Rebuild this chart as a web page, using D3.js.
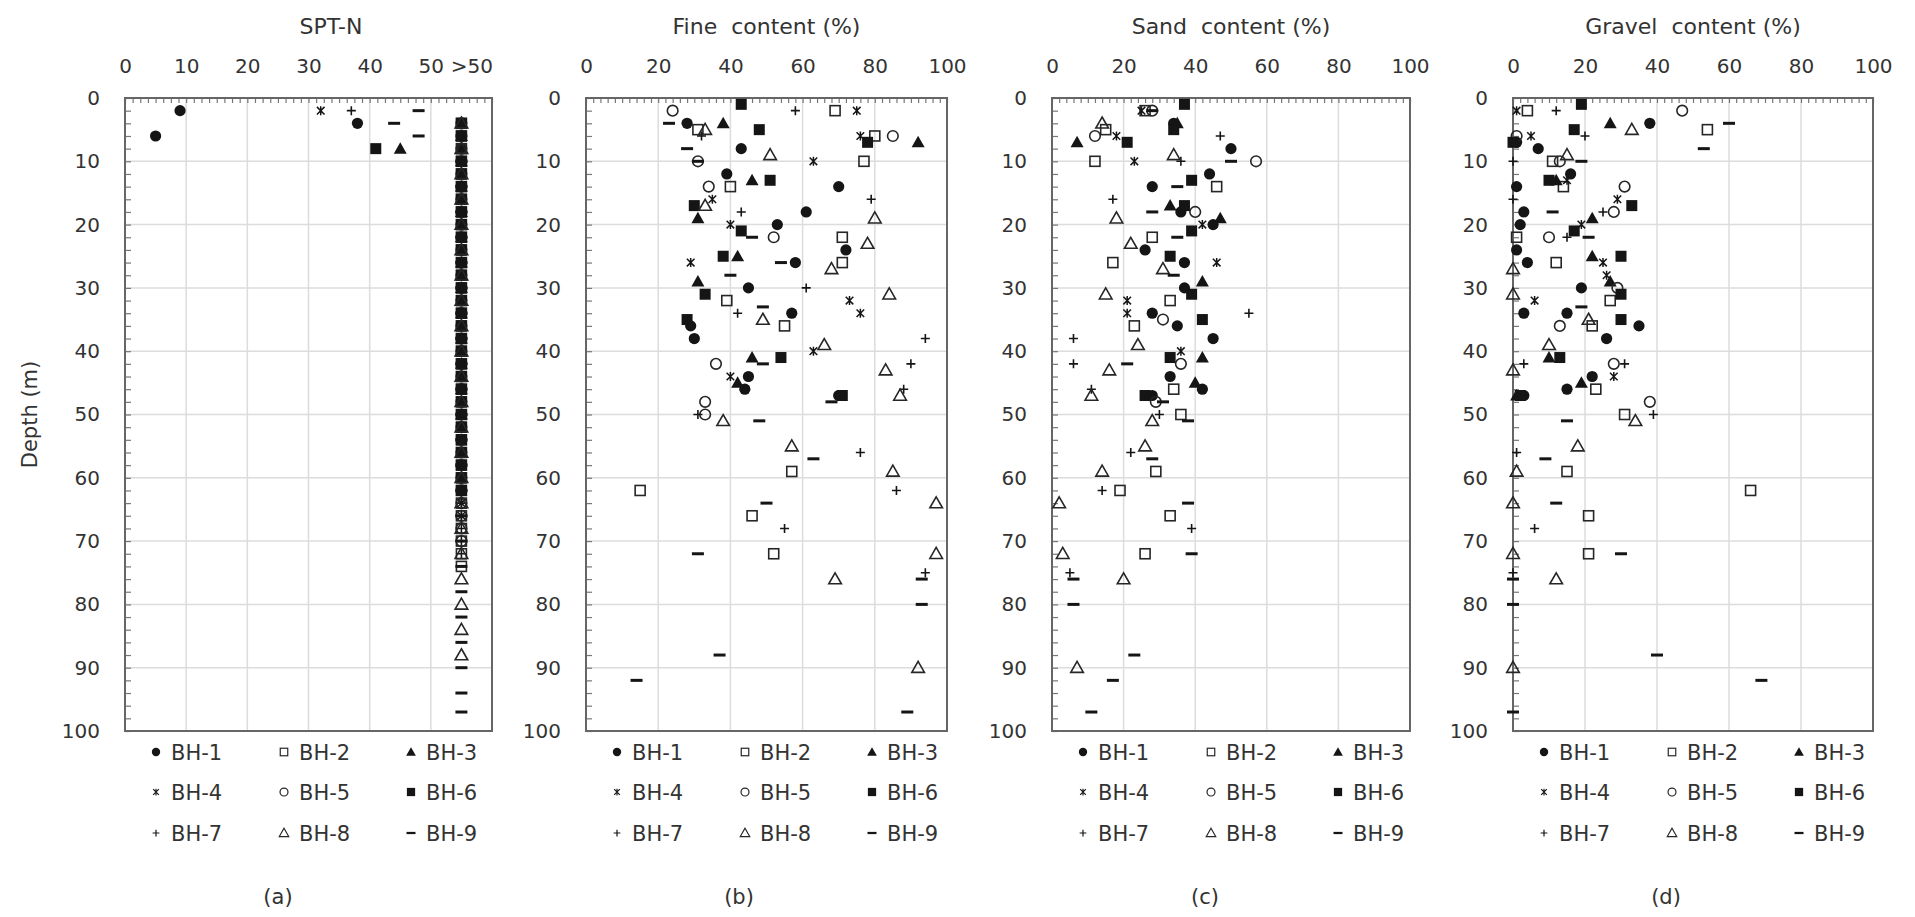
<!DOCTYPE html>
<html>
<head>
<meta charset="utf-8">
<script src="https://cdn.jsdelivr.net/npm/d3@7"></script>
<style>
  body { margin: 0; background: #fff; }
  svg { display: block; }
  text { font-family: "DejaVu Sans", sans-serif; fill: #333; }
</style>
</head>
<body>
<svg id="chart" width="1915" height="917"></svg>
<script>
// ---- data -------------------------------------------------------------
const boreholes = ["BH-1", "BH-2", "BH-3", "BH-4", "BH-5", "BH-6", "BH-7", "BH-8", "BH-9"];
const panelTitles = ["SPT-N", "Fine  content (%)", "Sand  content (%)", "Gravel  content (%)"];
const panelLabels = ["(a)", "(b)", "(c)", "(d)"];
const depthTicks = [0, 10, 20, 30, 40, 50, 60, 70, 80, 90, 100];
const sptTickValues = [0, 10, 20, 30, 40, 50, 55];
const sptTickLabels = ["0", "10", "20", "30", "40", "50", ">50"];
const pctTickValues = [0, 20, 40, 60, 80, 100];

// SPT-N below refusal, [N, depth] per borehole
const sptValues = [
  [[9, 2], [38, 4], [5, 6]],
  [],
  [[45, 8]],
  [[32, 2]],
  [],
  [[41, 8]],
  [[37, 2]],
  [],
  [[48, 2], [44, 4], [48, 6]]
];

// depths (m) where SPT-N exceeded 50, per borehole
const sptOver50Depths = [
  [8, 10, 12, 14, 16, 18, 20, 22, 24, 26, 28, 30, 32, 34, 36, 38, 40],
  [4, 6, 8, 10, 12, 14, 16, 18, 20, 22, 24, 26, 28, 30, 32, 34, 36, 38, 40, 42, 44, 46, 48, 50, 52, 54, 56, 58, 60, 62, 64, 66, 68, 70, 72, 74],
  [4, 6, 10, 12, 14, 16, 18, 20, 22, 24, 26, 28, 30, 32, 34, 36, 38, 40, 42, 44, 46, 48, 50],
  [4, 6, 8, 10, 12, 14, 16, 18, 20, 22, 24, 26, 28, 30, 32, 34, 36, 38, 40, 42, 44, 46, 48, 50, 52, 54, 56, 58, 60, 62, 64, 66],
  [4, 6, 8, 10, 12, 14, 16, 18, 20, 22, 24, 26, 28, 30, 32, 34, 36, 38, 40, 42, 44, 46, 48, 50, 52, 54, 56, 58, 60, 62, 64, 66, 68, 70],
  [4, 6, 10, 12, 14, 16, 18, 20, 22, 24, 26, 28, 30, 32, 34, 36, 38, 40, 42, 44, 46, 48, 50, 52, 54, 56, 58, 60, 62],
  [4, 6, 8, 10, 12, 14, 16, 18, 20, 22, 24, 26, 28, 30, 32, 34, 36, 38, 40, 42, 44, 46, 48, 50, 52, 54, 56, 58, 60, 62, 64, 66, 68, 70, 72],
  [4, 8, 12, 16, 20, 24, 28, 32, 36, 40, 44, 48, 52, 56, 60, 64, 68, 72, 76, 80, 84, 88],
  [10, 14, 18, 22, 26, 30, 34, 38, 42, 46, 50, 54, 58, 62, 66, 70, 74, 78, 82, 86, 90, 94, 97]
];

// fine content (%), [value, depth] per borehole
const fineContent = [
  [[28, 4], [43, 8], [39, 12], [70, 14], [61, 18], [53, 20], [72, 24], [58, 26], [45, 30], [57, 34], [29, 36], [30, 38], [45, 44], [44, 46], [70, 47]],
  [[69, 2], [31, 5], [80, 6], [77, 10], [40, 14], [71, 22], [71, 26], [39, 32], [55, 36], [57, 59], [15, 62], [46, 66], [52, 72]],
  [[38, 4], [92, 7], [46, 13], [31, 19], [42, 25], [31, 29], [46, 41], [42, 45]],
  [[75, 2], [76, 6], [63, 10], [35, 16], [40, 20], [29, 26], [73, 32], [76, 34], [63, 40], [40, 44]],
  [[24, 2], [85, 6], [31, 10], [34, 14], [52, 22], [36, 42], [33, 48], [33, 50]],
  [[43, 1], [48, 5], [78, 7], [51, 13], [30, 17], [43, 21], [38, 25], [33, 31], [28, 35], [54, 41], [71, 47]],
  [[58, 2], [32, 6], [79, 16], [43, 18], [61, 30], [42, 34], [94, 38], [90, 42], [88, 46], [31, 50], [76, 56], [86, 62], [55, 68], [94, 75]],
  [[33, 5], [51, 9], [33, 17], [80, 19], [78, 23], [68, 27], [84, 31], [49, 35], [66, 39], [83, 43], [87, 47], [38, 51], [57, 55], [85, 59], [97, 64], [97, 72], [69, 76], [92, 90]],
  [[23, 4], [28, 8], [31, 10], [46, 22], [54, 26], [40, 28], [49, 33], [49, 42], [68, 48], [48, 51], [63, 57], [50, 64], [31, 72], [93, 76], [93, 80], [37, 88], [14, 92], [89, 97]]
];

// sand content (%), [value, depth] per borehole
const sandContent = [
  [[34, 4], [50, 8], [44, 12], [28, 14], [36, 18], [45, 20], [26, 24], [37, 26], [37, 30], [28, 34], [35, 36], [45, 38], [33, 44], [42, 46], [28, 47]],
  [[26, 2], [15, 5], [12, 10], [46, 14], [28, 22], [17, 26], [33, 32], [23, 36], [34, 46], [36, 50], [29, 59], [19, 62], [33, 66], [26, 72]],
  [[35, 4], [7, 7], [33, 17], [47, 19], [42, 29], [42, 41], [40, 45]],
  [[25, 2], [18, 6], [23, 10], [42, 20], [46, 26], [21, 32], [21, 34], [36, 40]],
  [[28, 2], [12, 6], [57, 10], [40, 18], [31, 35], [36, 42], [29, 48]],
  [[37, 1], [34, 5], [21, 7], [39, 13], [37, 17], [39, 21], [33, 25], [39, 31], [42, 35], [33, 41], [26, 47]],
  [[47, 6], [36, 10], [17, 16], [55, 34], [6, 38], [6, 42], [11, 46], [30, 50], [22, 56], [14, 62], [39, 68], [5, 75]],
  [[14, 4], [34, 9], [18, 19], [22, 23], [31, 27], [15, 31], [24, 39], [16, 43], [11, 47], [28, 51], [26, 55], [14, 59], [2, 64], [3, 72], [20, 76], [7, 90]],
  [[28, 2], [50, 10], [35, 14], [28, 18], [35, 22], [34, 28], [21, 42], [31, 48], [38, 51], [28, 57], [38, 64], [39, 72], [6, 76], [6, 80], [23, 88], [17, 92], [11, 97]]
];

// gravel content (%), [value, depth] per borehole
const gravelContent = [
  [[38, 4], [1, 7], [7, 8], [16, 12], [1, 14], [3, 18], [2, 20], [1, 24], [4, 26], [19, 30], [3, 34], [15, 34], [35, 36], [26, 38], [22, 44], [15, 46], [3, 47]],
  [[4, 2], [54, 5], [11, 10], [14, 14], [1, 22], [12, 26], [27, 32], [22, 36], [23, 46], [31, 50], [15, 59], [66, 62], [21, 66], [21, 72]],
  [[27, 4], [12, 13], [22, 19], [22, 25], [27, 29], [10, 41], [19, 45], [1, 47]],
  [[1, 2], [5, 6], [15, 13], [29, 16], [19, 20], [25, 26], [26, 28], [6, 32], [28, 44]],
  [[47, 2], [1, 6], [13, 10], [31, 14], [28, 18], [10, 22], [29, 30], [13, 36], [28, 42], [38, 48]],
  [[19, 1], [17, 5], [0, 7], [10, 13], [33, 17], [17, 21], [30, 25], [30, 31], [30, 35], [13, 41], [2, 47]],
  [[12, 2], [20, 6], [0, 10], [0, 16], [25, 18], [15, 22], [3, 42], [31, 42], [39, 50], [1, 56], [6, 68], [0, 75]],
  [[33, 5], [15, 9], [0, 27], [0, 31], [21, 35], [10, 39], [0, 43], [34, 51], [18, 55], [1, 59], [0, 64], [0, 72], [12, 76], [0, 90]],
  [[60, 4], [53, 8], [19, 10], [11, 18], [21, 22], [19, 33], [15, 51], [9, 57], [12, 64], [30, 72], [0, 76], [0, 80], [40, 88], [69, 92], [0, 97]]
];

// ---- layout -----------------------------------------------------------
const plotTop = 98, plotBottom = 731;
const FONT = '"DejaVu Sans", sans-serif';
const panels = [
  { left: 125,  width: 367, domain: [0, 60],  ticks: sptTickValues, labels: sptTickLabels, minorStep: 1.25, grid: [10, 20, 30, 40, 50], titleX: 331 },
  { left: 586,  width: 361, domain: [0, 100], ticks: pctTickValues, labels: pctTickValues.map(String), minorStep: 2, grid: [20, 40, 60, 80], titleX: null },
  { left: 1052, width: 358, domain: [0, 100], ticks: pctTickValues, labels: pctTickValues.map(String), minorStep: 2, grid: [20, 40, 60, 80], titleX: null },
  { left: 1513, width: 360, domain: [0, 100], ticks: pctTickValues, labels: pctTickValues.map(String), minorStep: 2, grid: [20, 40, 60, 80], titleX: null }
];
const panelSeries = [null, fineContent, sandContent, gravelContent];

const svg = d3.select("#chart");
const y = d3.scaleLinear().domain([0, 100]).range([plotTop, plotBottom]);

const INK = "#151515";
const OPEN_STROKE = "#262626";

// one marker per borehole style
function drawMarker(g, k, x, yy, s = 1) {
  const t = `translate(${x},${yy}) scale(${s})`;
  switch (k) {
    case 0: // filled circle
      g.append("circle").attr("transform", t).attr("r", 5.6).attr("fill", INK); break;
    case 1: // open square
      g.append("rect").attr("transform", t).attr("x", -5).attr("y", -5).attr("width", 10).attr("height", 10)
        .attr("fill", "none").attr("stroke", OPEN_STROKE).attr("stroke-width", 1.6); break;
    case 2: // filled triangle
      g.append("path").attr("transform", t).attr("d", "M0,-6.5L6.5,5L-6.5,5Z").attr("fill", INK); break;
    case 3: // star
      g.append("path").attr("transform", t).attr("d", "M-3.8,-3.8L3.8,3.8M-3.8,3.8L3.8,-3.8M0,-4.5L0,4.5")
        .attr("stroke", INK).attr("stroke-width", 1.5).attr("fill", "none"); break;
    case 4: // open circle
      g.append("circle").attr("transform", t).attr("r", 5.3).attr("fill", "none")
        .attr("stroke", OPEN_STROKE).attr("stroke-width", 1.6); break;
    case 5: // filled square
      g.append("rect").attr("transform", t).attr("x", -5.5).attr("y", -5.5).attr("width", 11).attr("height", 11).attr("fill", INK); break;
    case 6: // plus
      g.append("path").attr("transform", t).attr("d", "M-4.5,0L4.5,0M0,-4.5L0,4.5")
        .attr("stroke", INK).attr("stroke-width", 1.6).attr("fill", "none"); break;
    case 7: // open triangle
      g.append("path").attr("transform", t).attr("d", "M0,-6.3L6.3,4.7L-6.3,4.7Z").attr("fill", "none")
        .attr("stroke", OPEN_STROKE).attr("stroke-width", 1.6); break;
    case 8: // dash
      g.append("path").attr("transform", t).attr("d", "M-6,0L6,0")
        .attr("stroke", INK).attr("stroke-width", 3).attr("fill", "none"); break;
  }
}

panels.forEach((p, pi) => {
  const x = d3.scaleLinear().domain(p.domain).range([p.left, p.left + p.width]);
  const g = svg.append("g");
  const right = p.left + p.width;

  // gridlines
  g.selectAll(null).data(p.grid).join("line")
    .attr("x1", d => x(d)).attr("x2", d => x(d)).attr("y1", plotTop).attr("y2", plotBottom)
    .attr("stroke", "#dcdcdc").attr("stroke-width", 1.5);
  g.selectAll(null).data(depthTicks.slice(1, -1)).join("line")
    .attr("x1", p.left).attr("x2", right).attr("y1", d => y(d)).attr("y2", d => y(d))
    .attr("stroke", "#dcdcdc").attr("stroke-width", 1.5);

  // top axis with inward ticks
  const minorX = d3.range(p.domain[0], p.domain[1] + 0.001, p.minorStep);
  g.append("g").attr("transform", `translate(0,${plotTop})`)
    .call(d3.axisBottom(x).tickValues(minorX).tickSize(5).tickFormat(""))
    .call(a => a.select(".domain").remove())
    .call(a => a.selectAll("line").attr("stroke", "#777").attr("stroke-width", 1.2));
  g.append("g").attr("transform", `translate(0,${plotTop - 22})`)
    .call(d3.axisTop(x).tickValues(p.ticks).tickSize(0).tickFormat((d, i) => p.labels[i]))
    .call(a => a.select(".domain").remove())
    .call(a => a.selectAll("text").attr("font-size", 20).attr("fill", "#333").attr("dy", "0.35em").attr("y", -10)
      .attr("dx", (d, i) => p.labels[i].startsWith(">") ? 10 : 0)
      .style("font-family", FONT));

  // left axis with inward ticks
  const minorY = d3.range(0, 100.001, 2);
  g.append("g").attr("transform", `translate(${p.left},0)`)
    .call(d3.axisRight(y).tickValues(minorY).tickSize(6).tickFormat(""))
    .call(a => a.select(".domain").remove())
    .call(a => a.selectAll("line").attr("stroke", "#777").attr("stroke-width", 1.2));
  g.append("g").attr("transform", `translate(${p.left - 25},0)`)
    .call(d3.axisLeft(y).tickValues(depthTicks).tickSize(0))
    .call(a => a.select(".domain").remove())
    .call(a => a.selectAll("text").attr("font-size", 20).attr("fill", "#333").attr("x", 0)
      .style("font-family", FONT));

  // frame
  g.append("rect").attr("x", p.left).attr("y", plotTop).attr("width", p.width).attr("height", plotBottom - plotTop)
    .attr("fill", "none").attr("stroke", "#666").attr("stroke-width", 2);

  // title
  g.append("text").attr("x", p.titleX ?? (p.left + p.width / 2)).attr("y", 26).attr("dy", "0.35em")
    .attr("text-anchor", "middle").attr("font-size", 22).style("white-space", "pre").text(panelTitles[pi]);

  // points
  const marks = g.append("g");
  boreholes.forEach((bh, k) => {
    if (pi === 0) {
      sptValues[k].forEach(([v, d]) => drawMarker(marks, k, x(v), y(d)));
      sptOver50Depths[k].forEach(d => drawMarker(marks, k, x(sptTickValues[6]), y(d)));
    } else {
      panelSeries[pi][k].forEach(([v, d]) => drawMarker(marks, k, x(v), y(d)));
    }
  });

  // legend
  const legX = [31, 159, 286], legY = [752, 792, 833];
  boreholes.forEach((bh, k) => {
    const col = k % 3, row = Math.floor(k / 3);
    const mx = p.left + legX[col], my = legY[row];
    drawMarker(g, k, mx, my, 0.75);
    g.append("text").attr("x", mx + 15).attr("y", my).attr("dy", "0.36em").attr("font-size", 21).text(bh);
  });

  // panel label
  g.append("text").attr("x", p.left + 153).attr("y", 897).attr("dy", "0.35em")
    .attr("text-anchor", "middle").attr("font-size", 21).text(panelLabels[pi]);
});

// shared depth label
svg.append("text").attr("transform", `translate(30,${(plotTop + plotBottom) / 2}) rotate(-90)`)
  .attr("text-anchor", "middle").attr("dy", "0.35em").attr("font-size", 21).text("Depth (m)");
</script>
</body>
</html>
